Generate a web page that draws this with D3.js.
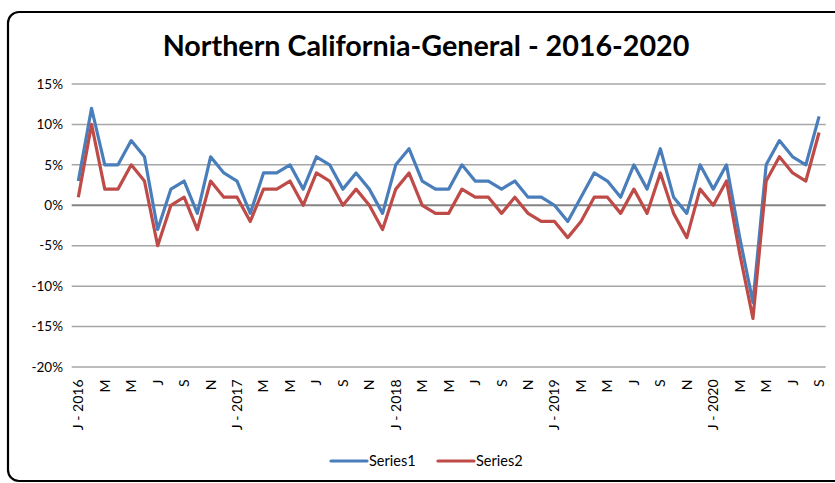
<!DOCTYPE html>
<html>
<head>
<meta charset="utf-8">
<script src="https://cdn.jsdelivr.net/npm/d3@7"></script>
<style>
  body { margin: 0; background: #fff; }
  svg { display: block; font-family: Lato, "Open Sans", sans-serif; }
</style>
</head>
<body>
<div id="chart"></div>
<script>
// Months Jan 2016 .. Sep 2020
const monthLetters = ["J", "F", "M", "A", "M", "J", "J", "A", "S", "O", "N", "D"];
const years = [2016, 2017, 2018, 2019, 2020];

const series1 = [
    3, 12, 5, 5, 8, 6, -3, 2, 3, -1, 6, 4,
    3, -1, 4, 4, 5, 2, 6, 5, 2, 4, 2, -1,
    5, 7, 3, 2, 2, 5, 3, 3, 2, 3, 1, 1,
    0, -2, 1, 4, 3, 1, 5, 2, 7, 1, -1, 5,
    2, 5, -4, -12, 5, 8, 6, 5, 11
];
const series2 = [
    1, 10, 2, 2, 5, 3, -5, 0, 1, -3, 3, 1,
    1, -2, 2, 2, 3, 0, 4, 3, 0, 2, 0, -3,
    2, 4, 0, -1, -1, 2, 1, 1, -1, 1, -1, -2,
    -2, -4, -2, 1, 1, -1, 2, -1, 4, -1, -4, 2,
    0, 3, -6, -14, 3, 6, 4, 3, 9
];
const seriesNames = ["Series1", "Series2"];
const colors = ["#4a7ebb", "#be4b48"];
const yTicks = [15, 10, 5, 0, -5, -10, -15, -20];

const width = 835, height = 483;
const margin = {top: 84, bottom: 116, left: 71.7, right: 9.3};

// category labels
const categories = series1.map((d, i) => {
    const m = i % 12;
    const y = years[Math.floor(i / 12)];
    return m === 0 ? "J - " + y : monthLetters[m];
});

const svg = d3.select("#chart")
    .append("svg")
    .attr("width", width)
    .attr("height", height);

// outer frame with rounded corners
svg.append("rect")
    .attr("x", 8)
    .attr("y", 12)
    .attr("width", 840)
    .attr("height", 469)
    .attr("rx", 11)
    .attr("fill", "none")
    .attr("stroke", "#000")
    .attr("stroke-width", 2.2);

const xScale = d3.scaleBand()
    .domain(d3.range(series1.length))
    .range([margin.left, width - margin.right]);

const yScale = d3.scaleLinear()
    .domain([-20, 15])
    .range([height - margin.bottom, margin.top]);

const xc = i => xScale(i) + xScale.bandwidth() / 2;

// gridlines
svg.append("g")
    .selectAll("line")
    .data(yTicks)
    .enter().append("line")
    .attr("x1", margin.left)
    .attr("x2", width - margin.right)
    .attr("y1", d => yScale(d))
    .attr("y2", d => yScale(d))
    .attr("stroke", d => d === 0 ? "#858585" : "#a6a6a6")
    .attr("stroke-width", d => d === 0 ? 2 : 1.5);

// y axis labels
svg.append("g")
    .selectAll("text")
    .data(yTicks)
    .enter().append("text")
    .attr("x", 63)
    .attr("y", d => yScale(d))
    .attr("dy", "0.35em")
    .attr("text-anchor", "end")
    .style("font-size", "13.5px")
    .attr("fill", "#000")
    .text(d => d + "%");

// x axis labels, every second month
svg.append("g")
    .selectAll("text")
    .data(categories.map((c, i) => ({c, i})).filter(d => d.i % 2 === 0))
    .enter().append("text")
    .attr("transform", d => `translate(${xc(d.i)},${yScale(-20) + 12.5}) rotate(-90)`)
    .attr("dy", "0.35em")
    .attr("text-anchor", "end")
    .style("font-size", "14px")
    .attr("fill", "#000")
    .text(d => d.c);

// lines
const line = d3.line()
    .x((d, i) => xc(i))
    .y(d => yScale(d));

[series1, series2].forEach((s, k) => {
    svg.append("path")
        .datum(s)
        .attr("d", line)
        .attr("fill", "none")
        .attr("stroke", colors[k])
        .attr("stroke-width", 3.2)
        .attr("stroke-linejoin", "round");
});

// title
svg.append("text")
    .attr("x", 426)
    .attr("y", 56)
    .attr("text-anchor", "middle")
    .style("font-size", "28.7px")
    .style("font-weight", "bold")
    .text("Northern California-General - 2016-2020");

// legend
const legendX = [331, 438];
const legend = svg.selectAll(".legend")
    .data(seriesNames)
    .enter().append("g")
    .attr("class", "legend")
    .attr("transform", (d, i) => `translate(${legendX[i]},461)`);

legend.append("line")
    .attr("x1", 0)
    .attr("x2", 36)
    .attr("stroke", (d, i) => colors[i])
    .attr("stroke-width", 3.2)
    .attr("stroke-linecap", "round");

legend.append("text")
    .attr("x", 38)
    .attr("dy", "0.35em")
    .style("font-size", "14.5px")
    .text(d => d);
</script>
</body>
</html>
